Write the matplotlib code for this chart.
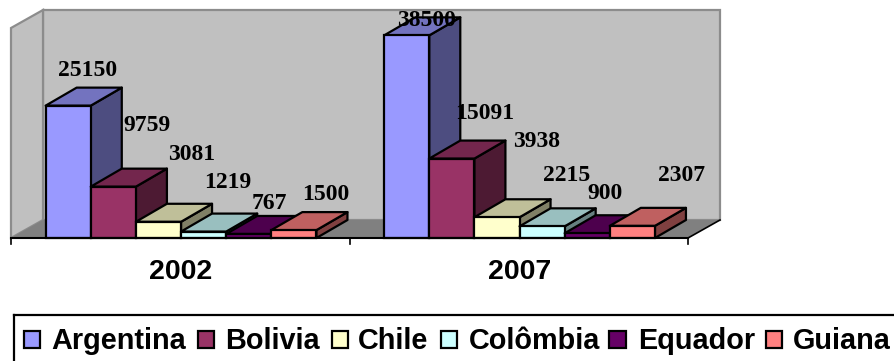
import matplotlib
matplotlib.use("Agg")
import matplotlib.pyplot as plt
from matplotlib.patches import Polygon, Rectangle
from matplotlib.colors import to_rgb

W, H = 894, 361
years = ["2002", "2007"]
countries = ["Argentina", "Bolivia", "Chile", "Colômbia", "Equador", "Guiana"]
values_2002 = [25150, 9759, 3081, 1219, 767, 1500]
values_2007 = [38500, 15091, 3938, 2215, 900, 2307]
colors = ["#9999FF", "#993366", "#FFFFCC", "#CCFFFF", "#660066", "#FF8080"]

# Label nudges in pixels, measured from the centre of each bar's top front edge
nudge_2002 = [(19, 35.5), (34, 61.5), (33, 67.5), (24, 49.5), (21, 30.5), (32, 35.5)]
nudge_2007 = [(20, 14.5), (33, 45.5), (40, 75.5), (25, 50.5), (18, 39.5), (49, 50.5)]

UNITS_PER_PX = 190.0
BASE_PX = 238
PLOT_LEFT, PLOT_RIGHT = 11, 688
BAR_SHIFT = 0.8
DEPTH_X, DEPTH_Y = 31, 18
FLOOR_X, FLOOR_Y = 32, 18


def yval(py):
    """Value on the vertical scale at a pixel row counted from the top."""
    return (BASE_PX - py) * UNITS_PER_PX


def shade(color, factor):
    return tuple(c * factor for c in to_rgb(color))


fig = plt.figure(figsize=(W / 100, H / 100), dpi=100)
ax = fig.add_axes([0, 0, 1, 1])
ax.set_xlim(0, W)
ax.set_ylim(yval(H), yval(0))
ax.axis("off")

dy_val = DEPTH_Y * UNITS_PER_PX
fy_val = FLOOR_Y * UNITS_PER_PX
top_val = yval(10)

# Back wall, side wall and floor of the box
wall_edge = "#8C8C8C"
ax.add_patch(Polygon([(PLOT_LEFT + FLOOR_X, fy_val), (PLOT_RIGHT + FLOOR_X, fy_val),
                      (PLOT_RIGHT + FLOOR_X, top_val), (PLOT_LEFT + FLOOR_X, top_val)],
                     fc="#C0C0C0", ec=wall_edge, lw=1.6, zorder=1))
ax.add_patch(Polygon([(PLOT_LEFT, 0), (PLOT_LEFT + FLOOR_X, fy_val),
                      (PLOT_LEFT + FLOOR_X, top_val), (PLOT_LEFT, top_val - fy_val)],
                     fc="#C0C0C0", ec=wall_edge, lw=1.6, zorder=1))
ax.add_patch(Polygon([(PLOT_LEFT, 0), (PLOT_RIGHT, 0),
                      (PLOT_RIGHT + FLOOR_X, fy_val), (PLOT_LEFT + FLOOR_X, fy_val)],
                     fc="#808080", ec="none", zorder=1))
ax.plot([PLOT_RIGHT, PLOT_RIGHT + FLOOR_X], [0, fy_val], color="black", lw=1.2, zorder=2)

# Clustered bars: six bars per group, with three quarters of a bar of padding each side
group_w = (PLOT_RIGHT - PLOT_LEFT) / len(years)
bar_w = group_w / (len(countries) + 1.5)
for g, (vals, nudges) in enumerate(zip([values_2002, values_2007], [nudge_2002, nudge_2007])):
    for i, (v, col) in enumerate(zip(vals, colors)):
        x0 = PLOT_LEFT + BAR_SHIFT + g * group_w + 0.75 * bar_w + i * bar_w
        x1 = x0 + bar_w
        z = 3 + g * 10 + i
        ax.add_patch(Polygon([(x1, 0), (x1 + DEPTH_X, dy_val), (x1 + DEPTH_X, v + dy_val), (x1, v)],
                             fc=shade(col, 0.5), ec="black", lw=1.6, joinstyle="round", zorder=z))
        ax.add_patch(Polygon([(x0, v), (x1, v), (x1 + DEPTH_X, v + dy_val), (x0 + DEPTH_X, v + dy_val)],
                             fc=shade(col, 0.75), ec="black", lw=1.6, joinstyle="round", zorder=z))
        ax.add_patch(Rectangle((x0, 0), bar_w, v, fc=col, ec="black", lw=1.6, zorder=z))
    for i, (v, (nx, ny)) in enumerate(zip(vals, nudges)):
        cx = PLOT_LEFT + BAR_SHIFT + g * group_w + 0.75 * bar_w + (i + 0.5) * bar_w
        ax.annotate(str(v), (cx, v), xytext=(nx, ny), textcoords="offset pixels",
                    ha="center", va="center", family="Liberation Serif",
                    fontweight="bold", fontsize=17, color="black", zorder=40)

# Category axis
ax.plot([PLOT_LEFT, PLOT_RIGHT], [0, 0], color="black", lw=1.5, zorder=30)
for k in range(len(years) + 1):
    tx = PLOT_LEFT + k * group_w
    ax.plot([tx, tx], [0, yval(244)], color="black", lw=1.2, zorder=30)
for k, year in enumerate(years):
    ax.text(PLOT_LEFT + (k + 0.5) * group_w + 0.5, yval(279), year,
            ha="center", va="baseline", family="Liberation Sans", fontweight="bold", fontsize=20.5)

# Legend row: only the top and left rules of its frame fall inside the canvas
ax.plot([13.5, W], [yval(315)] * 2, color="black", lw=1.6, zorder=2)
ax.plot([13.5, 13.5], [yval(315), yval(H)], color="black", lw=1.6, zorder=2)
swatch_px = [23.5, 197.5, 331.5, 440.5, 609, 765.5]
name_px = [51, 225, 358, 469, 638, 793]
swatch_size = 16.5
for sx, nx, name, col in zip(swatch_px, name_px, countries, colors):
    ax.add_patch(Rectangle((sx, yval(347.5)), swatch_size, swatch_size * UNITS_PER_PX,
                           fc=col, ec="black", lw=1.6, zorder=3))
    ax.text(nx, yval(349), name, ha="left", va="baseline", family="Liberation Sans",
            fontweight="bold", fontsize=20.8, zorder=3)

fig.savefig("out.png", dpi=100)
